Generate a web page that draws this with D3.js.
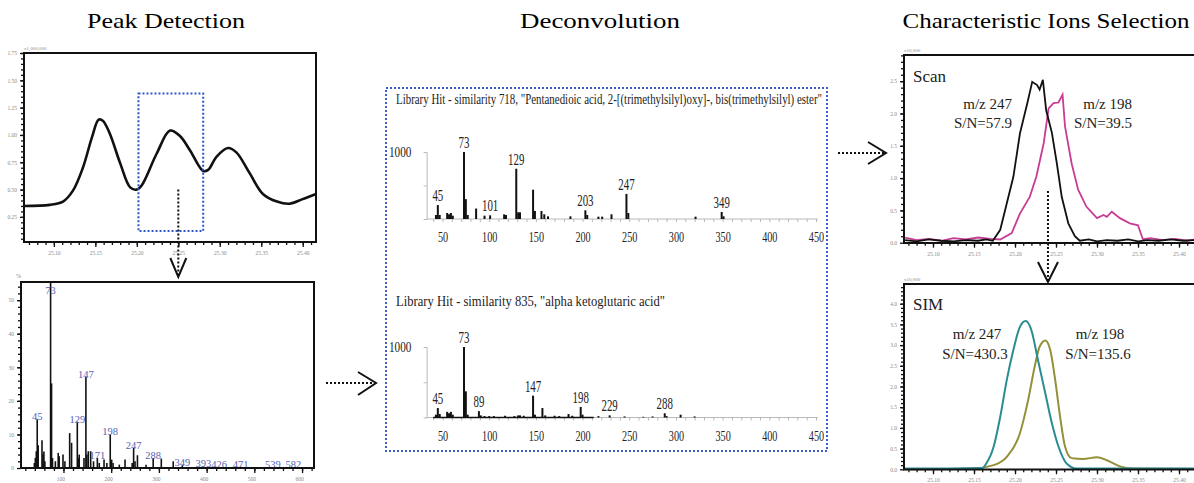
<!DOCTYPE html>
<html>
<head>
<meta charset="utf-8">
<script src="https://cdn.jsdelivr.net/npm/d3@7"></script>
<style>
body { margin: 0; background: #fff; }
svg { display: block; }
text { font-family: "Liberation Serif", "Times New Roman", serif; }
</style>
</head>
<body>
<div id="fig"></div>
<script>
// ---- chromatogram (peak detection) ----
var chromTime = [25.064, 25.095, 25.111, 25.123, 25.135, 25.146, 25.154, 25.159, 25.167, 25.180, 25.192, 25.200, 25.206, 25.224, 25.240, 25.252, 25.264, 25.280, 25.286, 25.296, 25.310, 25.320, 25.336, 25.352, 25.369, 25.384, 25.399, 25.416];
var chromInt = [0.35, 0.36, 0.39, 0.49, 0.70, 0.98, 1.14, 1.13, 1.02, 0.74, 0.52, 0.50, 0.54, 0.83, 1.04, 0.99, 0.86, 0.67, 0.68, 0.80, 0.88, 0.84, 0.65, 0.46, 0.39, 0.37, 0.41, 0.46];
var chromYTicks = [0.25, 0.50, 0.75, 1.00, 1.25, 1.50, 1.75];
var timeTicks = [25.10, 25.15, 25.20, 25.25, 25.30, 25.35, 25.40];
var selWindow = [25.202, 25.280];
var selRange = [0.12, 1.38];

// ---- raw mass spectrum ----
var specMz = [39, 41, 43, 45, 47, 55, 57, 59, 61, 73, 75, 77, 83, 89, 91, 99, 103, 113, 117, 129, 131, 133, 143, 147, 149, 152, 157, 163, 171, 175, 185, 191, 198, 201, 204, 217, 229, 244, 247, 250, 255, 273, 288, 305, 330, 349, 393, 426, 471, 539, 582];
var specPct = [1.5, 3, 5, 14.5, 6.8, 8.3, 4, 4.9, 2, 55.4, 25.2, 3, 2, 4.5, 3.5, 4, 2, 10.4, 7.5, 13.8, 3, 4, 3, 27.2, 4, 5, 5, 2, 3, 1.5, 2.5, 1.5, 10, 2.5, 1.5, 1, 2.5, 1.5, 6, 2, 3.8, 1, 3, 2.8, 2, 0.8, 0.5, 0.4, 0.4, 0.3, 0.3];
var specLabels = [45, 73, 129, 147, 171, 198, 247, 288, 349, 393, 426, 471, 539, 582];
var specYTicks = [0, 10, 20, 30, 40, 50];
var specXTicks = [100, 200, 300, 400, 500, 600];

// ---- library hits ----
var lib1Title = 'Library Hit - similarity 718, "Pentanedioic acid, 2-[(trimethylsilyl)oxy]-, bis(trimethylsilyl) ester"';
var lib1Mz = [43, 45, 47, 55, 57, 59, 61, 73, 75, 77, 86, 95, 101, 116, 118, 129, 131, 133, 147, 149, 156, 159, 163, 187, 203, 205, 217, 221, 231, 247, 249, 321, 349, 351];
var lib1Int = [60, 208, 60, 90, 70, 90, 50, 1000, 297, 60, 156, 50, 55, 70, 60, 750, 100, 100, 437, 120, 120, 70, 40, 40, 130, 60, 35, 35, 70, 375, 90, 35, 105, 40];
var lib1Labels = [45, 73, 101, 129, 203, 247, 349];

var lib2Title = 'Library Hit - similarity 835, "alpha ketoglutaric acid"';
var lib2Mz = [43, 45, 47, 55, 57, 59, 61, 73, 75, 77, 89, 91, 95, 100, 105, 117, 127, 131, 133, 137, 147, 149, 157, 160, 170, 175, 185, 189, 198, 200, 217, 229, 245, 265, 275, 288, 290, 305, 320];
var lib2Int = [40, 134, 50, 80, 60, 80, 40, 1000, 371, 40, 90, 30, 20, 20, 20, 25, 20, 30, 30, 25, 310, 40, 134, 30, 25, 20, 50, 25, 150, 40, 20, 30, 15, 10, 15, 60, 20, 40, 15];
var lib2Labels = [45, 73, 89, 147, 198, 229, 288];
var lib2Baseline = [40, 212];
var libXTicks = [50, 100, 150, 200, 250, 300, 350, 400, 450];

// ---- characteristic ions: scan ----
var scanTime247 = [25.066, 25.080, 25.095, 25.110, 25.125, 25.140, 25.155, 25.165, 25.173, 25.182, 25.191, 25.198, 25.206, 25.215, 25.221, 25.227, 25.230, 25.234, 25.238, 25.245, 25.251, 25.257, 25.265, 25.273, 25.279, 25.290, 25.300, 25.312, 25.325, 25.338, 25.350, 25.362, 25.375, 25.390, 25.405, 25.420];
var scanInt247 = [0.04, 0.02, 0.05, 0.03, 0.02, 0.04, 0.03, 0.05, 0.03, 0.20, 0.66, 1.02, 1.69, 2.16, 2.49, 2.44, 2.37, 2.52, 2.05, 1.70, 1.23, 0.71, 0.30, 0.10, 0.03, 0.05, 0.02, 0.04, 0.03, 0.05, 0.02, 0.04, 0.03, 0.05, 0.03, 0.04];
var scanTime198 = [25.066, 25.080, 25.095, 25.110, 25.125, 25.140, 25.155, 25.170, 25.182, 25.196, 25.206, 25.218, 25.226, 25.235, 25.241, 25.247, 25.253, 25.258, 25.261, 25.269, 25.277, 25.287, 25.300, 25.308, 25.312, 25.318, 25.328, 25.340, 25.350, 25.356, 25.365, 25.380, 25.395, 25.410, 25.420];
var scanInt198 = [0.08, 0.04, 0.06, 0.03, 0.07, 0.05, 0.08, 0.06, 0.05, 0.15, 0.45, 0.71, 1.02, 1.54, 2.08, 2.16, 2.17, 2.29, 1.80, 1.23, 0.82, 0.56, 0.38, 0.43, 0.40, 0.48, 0.38, 0.30, 0.27, 0.05, 0.07, 0.04, 0.06, 0.03, 0.05];
var scanYTicks = [0.0, 0.5, 1.0, 1.5, 2.0, 2.5];

// ---- characteristic ions: SIM ----
var simTime247 = [25.066, 25.120, 25.160, 25.165, 25.174, 25.182, 25.190, 25.198, 25.206, 25.213, 25.220, 25.228, 25.237, 25.245, 25.253, 25.263, 25.275, 25.300, 25.350, 25.420];
var simInt247 = [0.02, 0.02, 0.03, 0.14, 0.55, 1.27, 2.16, 2.88, 3.44, 3.58, 3.36, 2.64, 1.83, 1.11, 0.55, 0.14, 0.02, 0.02, 0.02, 0.02];
var simTime198 = [25.066, 25.150, 25.174, 25.190, 25.206, 25.216, 25.224, 25.230, 25.237, 25.243, 25.249, 25.255, 25.261, 25.269, 25.283, 25.300, 25.312, 25.328, 25.344, 25.420];
var simInt198 = [0.0, 0.02, 0.10, 0.30, 0.87, 1.67, 2.48, 2.96, 3.11, 2.88, 2.16, 1.27, 0.55, 0.27, 0.25, 0.29, 0.22, 0.07, 0.02, 0.01];
var simYTicks = [0.0, 0.5, 1.0, 1.5, 2.0, 2.5, 3.0, 3.5, 4.0];

var svg = d3.select('#fig').append('svg')
    .attr('width', 1194)
    .attr('height', 483);

function zip(a, b) { return a.map(function(d, i) { return [d, b[i]]; }); }

function title(x, t, len) {
  svg.append('text').attr('x', x - len / 2).attr('y', 28)
    .attr('textLength', len).attr('lengthAdjust', 'spacingAndGlyphs')
    .style('font-size', '22px')
    .text(t);
}
title(166, 'Peak Detection', 158);
title(600, 'Deconvolution', 160);
title(1046, 'Characteristic Ions Selection', 287);

// small helper for the tiny instrument axes
function tinyAxes(g, x, y, xMinor, xMajor, xFmt, yMinor, yMajor, yFmt) {
  var b = y.range()[0], l = x.range()[0];
  g.append('g').attr('class', 'xa').attr('transform', 'translate(0,' + b + ')')
    .call(d3.axisBottom(x).tickValues(xMinor).tickSize(3).tickFormat(''));
  g.append('g').attr('class', 'xa').attr('transform', 'translate(0,' + b + ')')
    .call(d3.axisBottom(x).tickValues(xMajor).tickSize(5).tickFormat(xFmt));
  g.append('g').attr('class', 'ya').attr('transform', 'translate(' + l + ',0)')
    .call(d3.axisLeft(y).tickValues(yMinor).tickSize(3).tickFormat(''));
  g.append('g').attr('class', 'ya').attr('transform', 'translate(' + l + ',0)')
    .call(d3.axisLeft(y).tickValues(yMajor).tickSize(4).tickFormat(yFmt));
  g.selectAll('.domain').remove();
  g.selectAll('.tick line').attr('stroke', '#111').attr('stroke-width', 1.3);
  g.selectAll('.tick text').attr('fill', '#8a8a8a').style('font-size', '5.5px')
    .style('font-family', 'Liberation Serif');
  g.selectAll('.xa .tick text').attr('dy', '0.9em');
}

function frame(x0, y0, x1, y1) {
  svg.append('rect').attr('x', x0).attr('y', y0)
    .attr('width', x1 - x0).attr('height', y1 - y0)
    .attr('fill', 'none').attr('stroke', '#111').attr('stroke-width', 2);
}

function dotted(pts, color) {
  svg.append('path').attr('d', d3.line()(pts))
    .attr('fill', 'none').attr('stroke', color || '#111')
    .attr('stroke-width', 2).attr('stroke-dasharray', '2,2');
}
function head(pts) {
  svg.append('path').attr('d', d3.line()(pts))
    .attr('fill', 'none').attr('stroke', '#111').attr('stroke-width', 2);
}

// ===== Panel A: chromatogram =====
var xA = d3.scaleLinear().domain([25.064, 25.416]).range([24, 316]);
var yA = d3.scaleLinear().domain([0.02, 1.75]).range([242, 53]);
var gA = svg.append('g');
tinyAxes(gA, xA, yA,
  d3.range(25.07, 25.415, 0.01), timeTicks, d3.format('.2f'),
  d3.range(0.05, 1.76, 0.05), chromYTicks, d3.format('.2f'));
frame(24, 53, 316, 242);
svg.append('text').attr('x', 24).attr('y', 50).style('font-size', '5px').attr('fill', '#8a8a8a').text('x1,000,000');

svg.append('path')
  .datum(zip(chromTime, chromInt))
  .attr('d', d3.line().x(d => xA(d[0])).y(d => yA(d[1])).curve(d3.curveCatmullRom))
  .attr('fill', 'none').attr('stroke', '#111').attr('stroke-width', 2.6);

svg.append('rect')
  .attr('x', xA(selWindow[0])).attr('y', yA(selRange[1]))
  .attr('width', xA(selWindow[1]) - xA(selWindow[0]))
  .attr('height', yA(selRange[0]) - yA(selRange[1]))
  .attr('fill', 'none').attr('stroke', '#2f55c8').attr('stroke-width', 2)
  .attr('stroke-dasharray', '2,2');

var cx = xA(25.25);
dotted([[cx, yA(0.5)], [cx, 276]]);
head([[cx - 8, 258], [cx, 277], [cx + 8, 258]]);

// ===== Panel B: raw spectrum =====
var xB = d3.scaleLinear().domain([11, 625]).range([21, 314]);
var yB = d3.scaleLinear().domain([0, 55.4]).range([468, 282]);
var gB = svg.append('g');
tinyAxes(gB, xB, yB,
  d3.range(20, 621, 20), specXTicks, d3.format('d'),
  d3.range(2, 55, 2), specYTicks, d3.format('d'));
gB.selectAll('.xa .tick text').attr('dx', -3);
svg.append('text').attr('x', 16).attr('y', 278).style('font-size', '6px').attr('fill', '#8a8a8a').text('%');

svg.append('g').selectAll('line').data(zip(specMz, specPct)).enter()
  .append('line')
  .attr('x1', d => xB(d[0])).attr('x2', d => xB(d[0]))
  .attr('y1', yB(0)).attr('y2', d => yB(d[1]))
  .attr('stroke', '#111').attr('stroke-width', 1.6);

svg.append('g').selectAll('text').data(specLabels).enter()
  .append('text')
  .attr('x', d => xB(d))
  .attr('y', function(d) { var v = specPct[specMz.indexOf(d)]; return Math.max(yB(v) + 1, 294); })
  .attr('text-anchor', 'middle')
  .attr('fill', '#5563b5')
  .style('font-size', '10.5px')
  .text(d => d);
frame(21, 282, 314, 468);

// ===== Panel C: deconvolution =====
svg.append('rect').attr('x', 386).attr('y', 88).attr('width', 441).attr('height', 363)
  .attr('fill', 'none').attr('stroke', '#3b5cc4').attr('stroke-width', 2)
  .attr('stroke-dasharray', '2,2');

var xC = d3.scaleLinear().domain([50, 450]).range([442.5, 816]);

function libSpectrum(top, yBase, yTop, mz, inten, labels, heading, headLen) {
  var y = d3.scaleLinear().domain([0, 1000]).range([yBase, yTop]);
  var g = svg.append('g');
  g.append('text').attr('x', 396).attr('y', top)
    .attr('textLength', headLen).attr('lengthAdjust', 'spacingAndGlyphs')
    .style('font-size', '14px').attr('fill', '#222')
    .text(heading);
  // axes
  var ax = g.append('g').attr('transform', 'translate(0,' + yBase + ')')
    .call(d3.axisBottom(xC).tickValues(d3.range(40, 451, 10)).tickSize(3).tickFormat(''));
  ax.select('.domain').attr('d', 'M' + xC(33) + ',0H' + xC(452));
  var ax2 = g.append('g').attr('transform', 'translate(0,' + yBase + ')')
    .call(d3.axisBottom(xC).tickValues(libXTicks).tickSize(0).tickFormat(d3.format('d')));
  ax2.select('.domain').remove();
  g.selectAll('.domain, .tick line').attr('stroke', '#b8b8b8');
  ax2.selectAll('.tick text').each(function() {
    d3.select(this)
      .attr('transform', 'translate(0,18) scale(0.68,1)')
      .attr('y', 0).attr('dy', '0.35em')
      .attr('x', 0).style('font-size', '15px').attr('fill', '#222')
      .style('font-family', 'Liberation Serif');
  });
  var ay = g.append('g').attr('transform', 'translate(' + xC(33) + ',0)')
    .call(d3.axisLeft(y).tickValues([500]).tickSize(3).tickFormat(''));
  ay.selectAll('.domain, .tick line').attr('stroke', '#b8b8b8');
  g.append('text').attr('transform', 'translate(' + 389 + ',' + (y(1000) + 5) + ') scale(0.75,1)')
    .style('font-size', '15px').attr('fill', '#222').text('1000');

  g.selectAll('line.bar').data(zip(mz, inten)).enter()
    .append('line').attr('class', 'bar')
    .attr('x1', d => xC(d[0])).attr('x2', d => xC(d[0]))
    .attr('y1', yBase).attr('y2', d => y(d[1]))
    .attr('stroke', '#111').attr('stroke-width', 2);

  g.selectAll('text.lbl').data(labels).enter()
    .append('text').attr('class', 'lbl')
    .attr('transform', function(d) {
      var v = inten[mz.indexOf(d)];
      return 'translate(' + xC(d) + ',' + (y(v) - 4) + ') scale(0.68,1)';
    })
    .attr('text-anchor', 'middle')
    .style('font-size', '16px').attr('fill', '#222')
    .text(d => d);
  return y;
}
libSpectrum(104, 219, 152, lib1Mz, lib1Int, lib1Labels, lib1Title, 426);
var y2 = libSpectrum(306, 417.5, 347, lib2Mz, lib2Int, lib2Labels, lib2Title, 269);
svg.append('line')
  .attr('x1', xC(lib2Baseline[0])).attr('x2', xC(lib2Baseline[1]))
  .attr('y1', y2(0)).attr('y2', y2(0))
  .attr('stroke', '#111').attr('stroke-width', 1.5);

// arrows between columns
dotted([[326, 383], [374, 383]]);
head([[358, 372], [376, 383], [358, 395]]);
dotted([[838, 153], [884, 153]]);
head([[868, 142], [886, 153], [868, 164]]);

// ===== Panel D: scan =====
var xD = d3.scaleLinear().domain([25.10, 25.40]).range([933, 1179]);
var yD = d3.scaleLinear().domain([0, 2.5]).range([242.7, 81.2]);
var boxL = 904, boxR = 1196;
var gD = svg.append('g');
tinyAxes(gD, xD, yD,
  d3.range(25.07, 25.43, 0.01), timeTicks, d3.format('.2f'),
  d3.range(0.1, 2.95, 0.1), scanYTicks, d3.format('.1f'));
gD.selectAll('.ya').attr('transform', 'translate(' + boxL + ',0)');
svg.append('text').attr('x', boxL).attr('y', 52).style('font-size', '5px').attr('fill', '#8a8a8a').text('x10,000');

var lineD = d3.line().x(d => xD(d[0])).y(d => yD(d[1]));
svg.append('path').datum(zip(scanTime198, scanInt198)).attr('d', lineD)
  .attr('fill', 'none').attr('stroke', '#c83c94').attr('stroke-width', 1.8);
svg.append('path').datum(zip(scanTime247, scanInt247)).attr('d', lineD)
  .attr('fill', 'none').attr('stroke', '#111').attr('stroke-width', 1.8);
frame(boxL, 55, boxR, 243);

function lbl(x, y, t, size, anchor) {
  svg.append('text').attr('x', x).attr('y', y).attr('text-anchor', anchor || 'start')
    .style('font-size', size + 'px').attr('fill', '#222').text(t);
}
lbl(913, 82, 'Scan', 17);
lbl(1012, 109, 'm/z 247', 15, 'end');
lbl(1012, 128, 'S/N=57.9', 15, 'end');
lbl(1132, 109, 'm/z 198', 15, 'end');
lbl(1132, 128, 'S/N=39.5', 15, 'end');

var dx = xD(25.2402);
dotted([[dx, yD(0.8)], [dx, 280]]);
head([[dx - 10, 262], [dx, 282], [dx + 10, 262]]);

// ===== Panel E: SIM =====
var yE = d3.scaleLinear().domain([0, 4]).range([469.3, 303.7]);
var gE = svg.append('g');
tinyAxes(gE, xD, yE,
  d3.range(25.07, 25.43, 0.01), timeTicks, d3.format('.2f'),
  d3.range(0.1, 4.45, 0.1), simYTicks, d3.format('.1f'));
gE.selectAll('.ya').attr('transform', 'translate(' + boxL + ',0)');
svg.append('text').attr('x', boxL).attr('y', 281).style('font-size', '5px').attr('fill', '#8a8a8a').text('x10,000');

var lineE = d3.line().x(d => xD(d[0])).y(d => yE(d[1])).curve(d3.curveMonotoneX);
svg.append('path').datum(zip(simTime198, simInt198)).attr('d', lineE)
  .attr('fill', 'none').attr('stroke', '#93903a').attr('stroke-width', 2);
svg.append('path').datum(zip(simTime247, simInt247)).attr('d', lineE)
  .attr('fill', 'none').attr('stroke', '#2a8c93').attr('stroke-width', 2);
frame(boxL, 284, boxR, 469.5);

lbl(913, 310, 'SIM', 17);
lbl(977, 339, 'm/z 247', 15, 'middle');
lbl(975, 359, 'S/N=430.3', 15, 'middle');
lbl(1100, 339, 'm/z 198', 15, 'middle');
lbl(1098, 359, 'S/N=135.6', 15, 'middle');
</script>
</body>
</html>
